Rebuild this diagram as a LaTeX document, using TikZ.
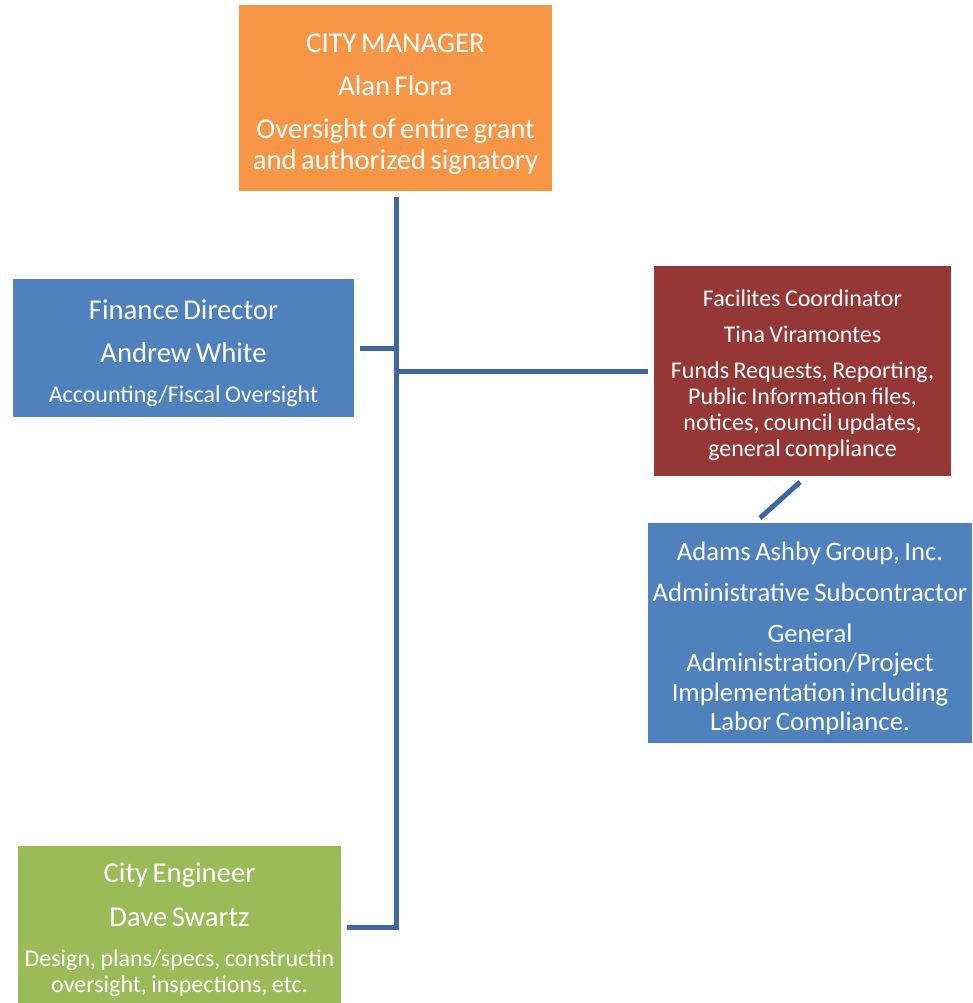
\documentclass[tikz,border=0pt]{standalone}
\usepackage{fontspec}
\setmainfont{Carlito}
\usetikzlibrary{positioning}
\setlength{\parindent}{0pt}
\setlength{\parskip}{0pt}
\definecolor{mgrorange}{HTML}{F79646}
\definecolor{finblue}{HTML}{4F81BD}
\definecolor{facred}{HTML}{953735}
\definecolor{enggreen}{HTML}{9BBB59}
\definecolor{linkblue}{RGB}{64,104,158}
% one block of text in a box, with the gap above it
\newcommand{\bigpar}[2][9.5pt]{\vskip#1{\fontsize{21.5}{23}\selectfont#2\par}}
\newcommand{\midpar}[2][8.75pt]{\vskip#1{\fontsize{20}{22.1}\selectfont#2\par}}
\newcommand{\smallpar}[2][7.5pt]{\vskip#1{\fontsize{18}{19.5}\selectfont#2\par}}

\begin{document}
\begin{tikzpicture}
  [x=0.75pt, y=-0.75pt,
   box/.style 2 args={rectangle, inner sep=0pt, text=white, align=center,
     minimum width=#1*0.75pt, minimum height=#2*0.75pt, text width=#1*0.75pt},
   link/.style={draw=linkblue, line width=3.75pt}]
  \useasboundingbox (0,0) rectangle (972,1003);
  % boxes
  \node[box={313}{186}, fill=mgrorange] (mgr) at (395.5,98)
    {\bigpar[0pt]{CITY MANAGER}\bigpar{Alan Flora}
     \bigpar{Oversight of entire grant\par and authorized signatory}};
  \node[box={341}{138}, fill=finblue] (fin) at (183.5,348)
    {\bigpar[0pt]{Finance Director}\bigpar{Andrew White}
     \smallpar[10.5pt]{Accounting/Fiscal Oversight}};
  \node[box={297}{210}, fill=facred] (fac) at (802.5,371)
    {\smallpar[0pt]{Facilites Coordinator}\smallpar{Tina Viramontes}
     \smallpar{Funds Requests, Reporting,\par Public Information files,\par
       notices, council updates,\par general compliance}};
  \node[box={324}{220}, fill=finblue] (aag) at (810,633)
    {\midpar[0pt]{Adams Ashby Group, Inc.}\midpar{Administrative Subcontractor}
     \midpar{General\par Administration/Project\par Implementation including\par
       Labor Compliance.}};
  \node[box={323}{157}, fill=enggreen] (eng) at (179.5,924.5)
    {\bigpar[0pt]{City Engineer}\bigpar{Dave Swartz}
     \smallpar[11pt]{Design, plans/specs, constructin\par oversight, inspections, etc.}};
  % connectors
  \coordinate (top) at (396,197);
  \coordinate (finend) at (360,348);
  \coordinate (facend) at (648,371);
  \coordinate (engend) at (347,927);
  \coordinate (facfoot) at (800,482);
  \coordinate (aaghead) at (760,518);
  \draw[link] (top) |- (engend);
  \draw[link] (finend) -- (finend -| top);
  \draw[link] (top |- facend) -- (facend);
  \draw[link] (facfoot) -- (aaghead);
\end{tikzpicture}
\end{document}
